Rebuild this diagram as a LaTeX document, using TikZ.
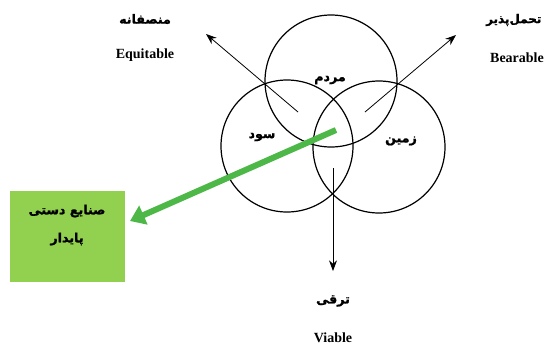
\documentclass[tikz,border=0pt]{standalone}
\usepackage{fontspec}
\usetikzlibrary{arrows.meta}
\setmainfont{Liberation Serif}
\newfontfamily\fafont[Script=Arabic, BoldFont={DejaVu Sans Bold}, BoldFeatures={FakeBold=1.2}]{DejaVu Sans}
\TeXXeTstate=1
\definecolor{boxgreen}{HTML}{92D050}
\definecolor{arrgreen}{HTML}{4DB848}
\begin{document}
\begin{tikzpicture}[x=0.75pt,y=-0.75pt,
  circ/.style={draw, circle, line width=0.9pt, minimum size=99pt, inner sep=0pt},
  en/.style={font=\fontsize{10.5}{12}\selectfont\bfseries, inner sep=1pt},
  fa/.style={font=\fafont\fontsize{9.5}{11}\selectfont\bfseries, inner sep=1pt},
  thinarrow/.style={draw, line width=0.6pt, -{Stealth[length=8pt,width=6pt]}}]
\useasboundingbox (0,0) rectangle (546,344);
% circles
\node[circ] (ctop) at (331,81) {};
\node[circ] (cleft) at (287,146) {};
\node[circ] (cright) at (379,147) {};
% circle labels
\node[fa] (lmardom) at (330,80) {\beginR مردم\endR};
\node[fa] (lsood) at (262,137) {\beginR سود\endR};
\node[fa] (lzamin) at (401,141) {\beginR زمین\endR};
% outer labels
\node[fa] (fequ) at (145,19) {\beginR منصفانه\endR};
\node[en] (equ) at (145,55) {Equitable};
\node[fa, anchor=east, font=\fafont\fontsize{9}{11}\selectfont\bfseries] (fbear) at (543,20) {\beginR تحمل‌پذیر\endR};
\node[en] (bear) at (517,58) {Bearable};
\node[fa] (fvia) at (333,301) {\beginR ترقی\endR};
\node[en] (via) at (333,338) {Viable};
% arrow coordinates
\coordinate (s1) at (298,112);
\coordinate (e1) at (206,34);
\coordinate (s2) at (365,112);
\coordinate (e2) at (456,35);
\coordinate (s3) at (333,168);
\coordinate (e3) at (333,271);
\draw[thinarrow] (s1) -- (e1);
\draw[thinarrow] (s2) -- (e2);
\draw[thinarrow] (s3) -- (e3);
% green box
\node[fill=boxgreen, minimum width=86.25pt, minimum height=68.25pt, inner sep=0pt] (gbox) at (67.5,236) {};
\node[fa] (gt1) at (67,211) {\beginR صنایع دستی\endR};
\node[fa] (gt2) at (67,239) {\beginR پایدار\endR};
% green arrow
\coordinate (gs) at (336,130);
\coordinate (ge) at (130,221);
\draw[arrgreen, line width=4.5pt, -{Triangle[length=11pt,width=15pt]}] (gs) -- (ge);
\end{tikzpicture}
\end{document}
